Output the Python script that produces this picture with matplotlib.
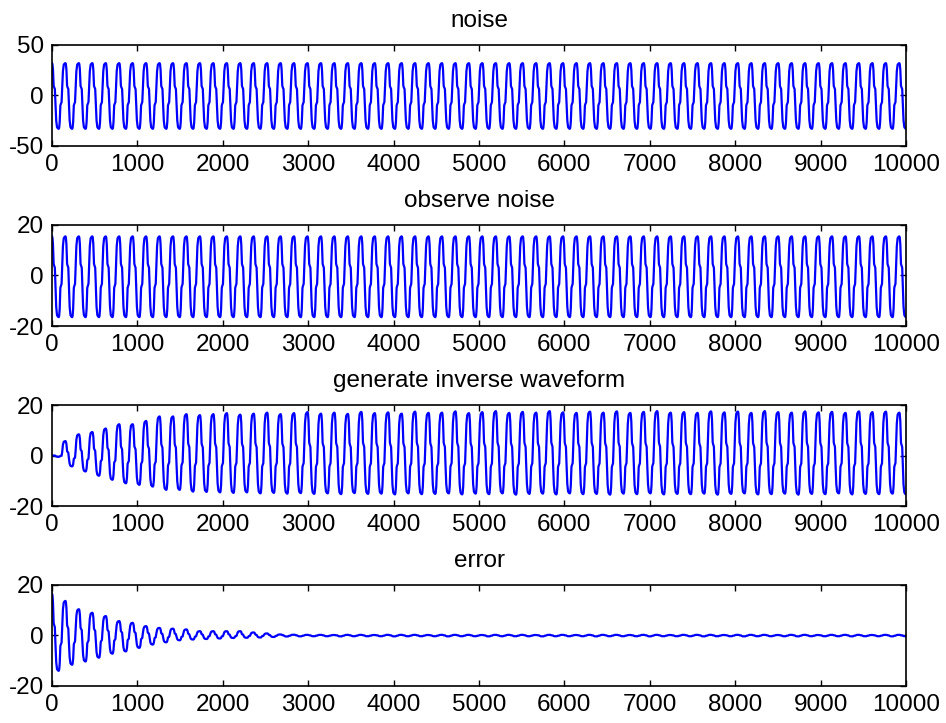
import numpy as np
import matplotlib
matplotlib.use("Agg")
import matplotlib.pyplot as plt

plt.rcParams['font.family'] = ['Liberation Sans', 'DejaVu Sans']

# ---- data -------------------------------------------------------------
titles = ["noise", "observe noise", "generate inverse waveform", "error"]
x_ticks = [0, 1000, 2000, 3000, 4000, 5000, 6000, 7000, 8000, 9000, 10000]
y_ticks = [[-50, 0, 50], [-20, 0, 20], [-20, 0, 20], [-20, 0, 20]]
y_limits = [(-50, 50), (-20, 20), (-20, 20), (-20, 20)]

period = 157.5          # samples per cycle
n_cycles = 64

# one falling half-cycle (peak -> trough), normalised; the rising half is its mirror
half_u = [0.00, 0.06, 0.14, 0.24, 0.30, 0.42, 0.50, 0.62, 0.74, 0.88]
half_v = [1.00, 0.97, 0.80, 0.30, 0.26, 0.20, -0.20, -0.75, -0.95, -0.99]

noise_peak, noise_trough = 32.0, -33.0
observe_peak, observe_trough = 15.5, -16.5

inverse_peaks = [0.0, 5.7, 8.4, 9.3, 10.7, 12.4, 12.4, 13.7, 15.5, 15.5,
                 16.4, 16.0, 16.4, 16.8, 16.2, 16.6, 17.0, 16.4, 16.8, 17.2,
                 16.6, 17.0, 16.5, 17.3, 16.8, 17.1, 16.6, 17.4, 16.9, 17.0,
                 17.5, 16.8, 17.2, 17.6, 16.9, 17.3, 17.0, 17.6, 17.1, 16.9,
                 17.4, 17.0, 17.5, 16.9, 17.3, 17.6, 17.0, 17.2, 16.9, 17.5,
                 17.1, 17.4, 16.9, 17.6, 17.2, 17.0, 17.5, 17.1, 17.3, 16.9,
                 17.5, 17.2, 17.4, 17.0]
inverse_troughs = [-0.5, -4.3, -6.3, -8.0, -9.6, -11.0, -11.6, -12.3, -13.6, -13.6,
                   -14.3, -14.4, -14.6, -14.8, -14.6, -15.0, -14.8, -15.1, -14.9, -15.2,
                   -15.0, -15.3, -14.9, -15.2, -15.1, -15.4, -15.0, -15.3, -15.2, -15.0,
                   -15.4, -15.1, -15.3, -15.0, -15.5, -15.2, -15.1, -15.4, -15.0, -15.3,
                   -15.2, -15.5, -15.1, -15.3, -15.0, -15.4, -15.2, -15.3, -15.1, -15.5,
                   -15.2, -15.0, -15.4, -15.3, -15.1, -15.5, -15.2, -15.3, -15.0, -15.4,
                   -15.2, -15.3, -15.1, -15.4]

error_peaks = [16.5, 13.7, 10.4, 9.0, 7.7, 5.7, 5.0, 3.7, 3.0, 2.7,
               2.4, 1.7, 1.7, 1.7, 1.7, 1.2, 0.8, 0.4, 0.3, 0.25,
               0.25, 0.2, 0.25, 0.25, 0.2, 0.25, 0.25, 0.25, 0.2, 0.25,
               0.25, 0.25, 0.2, 0.25, 0.25, 0.25, 0.2, 0.25, 0.25, 0.2,
               0.25, 0.25, 0.25, 0.2, 0.25, 0.25, 0.2, 0.25, 0.25, 0.25,
               0.2, 0.25, 0.25, 0.25, 0.2, 0.25, 0.25, 0.2, 0.25, 0.25,
               0.25, 0.2, 0.25, 0.25]
error_troughs = [-14.0, -11.6, -10.3, -8.8, -7.2, -6.3, -4.9, -3.6, -2.7, -1.9,
                 -1.6, -1.4, -1.2, -1.0, -0.9, -0.8, -0.6, -0.4, -0.35, -0.3,
                 -0.3, -0.35, -0.3, -0.3, -0.3, -0.35, -0.3, -0.3, -0.3, -0.35,
                 -0.3, -0.3, -0.35, -0.3, -0.3, -0.3, -0.35, -0.3, -0.3, -0.3,
                 -0.35, -0.3, -0.3, -0.3, -0.35, -0.3, -0.3, -0.3, -0.35, -0.3,
                 -0.3, -0.35, -0.3, -0.3, -0.3, -0.35, -0.3, -0.3, -0.3, -0.35,
                 -0.3, -0.3, -0.35, -0.3]


def build_wave(peaks, troughs):
    """Chain half-cycles peak->trough->peak using the normalised half shape."""
    xs, ys = [], []
    hu = np.asarray(half_u)
    hv = np.asarray(half_v)
    for k in range(len(peaks)):
        a = peaks[k]
        b = troughs[k]
        start = k * period
        # falling half
        vals = np.where(hv >= 0, hv * a, -hv * b)
        xs.extend(start + hu * period / 2)
        ys.extend(vals)
        # rising half
        if k + 1 < len(peaks):
            a2 = peaks[k + 1]
            rv = -hv
            vals = np.where(rv >= 0, rv * a2, -rv * b)
            xs.extend(start + period / 2 + hu * period / 2)
            ys.extend(vals)
        else:
            xs.append(start + period / 2)
            ys.append(b)
    return np.array(xs), np.array(ys)


series = [
    build_wave([noise_peak] * n_cycles, [noise_trough] * n_cycles),
    build_wave([observe_peak] * n_cycles, [observe_trough] * n_cycles),
    build_wave(inverse_peaks, inverse_troughs),
    build_wave(error_peaks, error_troughs),
]

# ---- figure -----------------------------------------------------------
fig = plt.figure(figsize=(9.46, 7.23), dpi=100)
left, width, height = 0.0550, 0.9027, 0.1397
bottoms = [0.7981, 0.5491, 0.3001, 0.0512]

for i in range(4):
    ax = fig.add_axes([left, bottoms[i], width, height])
    x, y = series[i]
    ax.plot(x, y, color=(0, 0, 1), lw=1.6)
    ax.set_xlim(0, 10000)
    ax.set_ylim(*y_limits[i])
    ax.set_xticks(x_ticks)
    ax.set_xticklabels([str(t) for t in x_ticks])
    ax.set_yticks(y_ticks[i])
    ax.set_yticklabels([str(t) for t in y_ticks[i]])
    ax.tick_params(direction='in', length=4, width=1.0, top=True, right=True,
                   labelsize=17.5, pad=6)
    for s in ax.spines.values():
        s.set_linewidth(1.2)
    ax.set_title(titles[i], fontsize=17.5, pad=13)

fig.savefig("out.png", dpi=100, facecolor="white")
